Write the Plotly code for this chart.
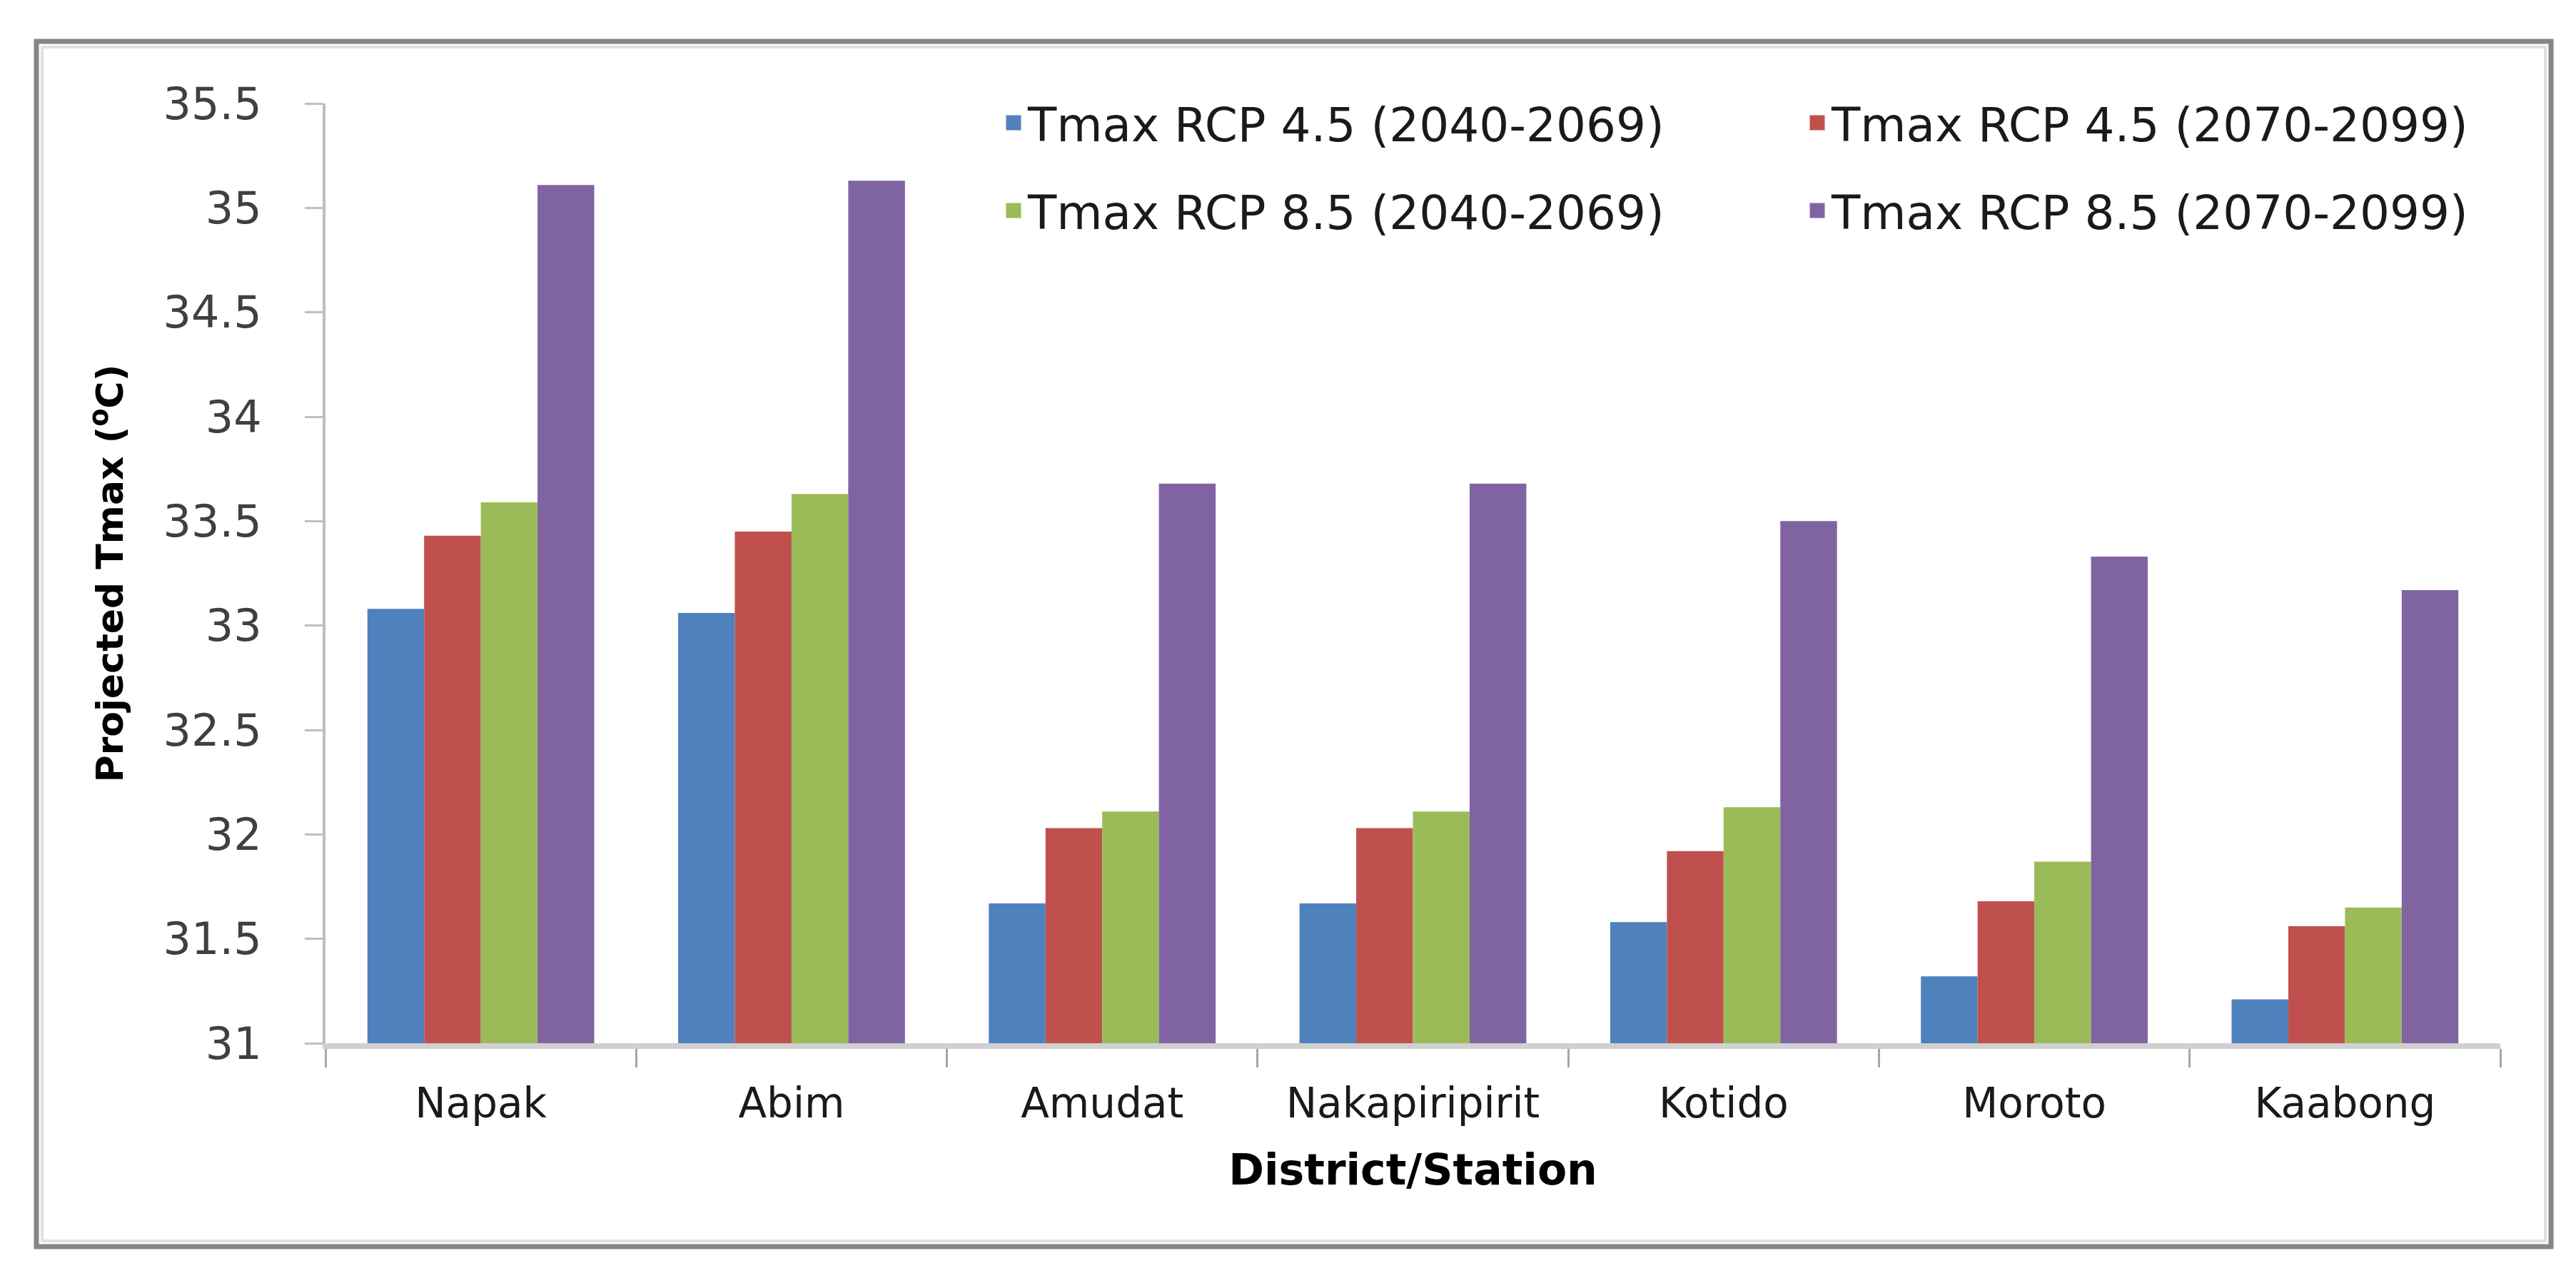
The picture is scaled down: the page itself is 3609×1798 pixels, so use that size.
import plotly.graph_objects as go

# ── data ──────────────────────────────────────────────────────────────
districts = ["Napak", "Abim", "Amudat", "Nakapiripirit", "Kotido", "Moroto", "Kaabong"]

series_names = [
    "Tmax RCP 4.5 (2040-2069)",
    "Tmax RCP 4.5 (2070-2099)",
    "Tmax RCP 8.5 (2040-2069)",
    "Tmax RCP 8.5 (2070-2099)",
]
rcp45_2040 = [33.08, 33.06, 31.67, 31.67, 31.58, 31.32, 31.21]
rcp45_2070 = [33.43, 33.45, 32.03, 32.03, 31.92, 31.68, 31.56]
rcp85_2040 = [33.59, 33.63, 32.11, 32.11, 32.13, 31.87, 31.65]
rcp85_2070 = [35.11, 35.13, 33.68, 33.68, 33.50, 33.33, 33.17]

y_ticks = [31, 31.5, 32, 32.5, 33, 33.5, 34, 34.5, 35, 35.5]

# ── layout constants (pixels) ─────────────────────────────────────────
W, H = 3609, 1798
L, R, T, B = 448, 114, 137, 344
PW, PH = W - L - R, H - T - B
FONT = "DejaVu Sans"
colors = ["#4F81BD", "#C0504D", "#9BBB59", "#8064A2"]


def px(x):
    return (x - L) / PW


def py(y):
    return (H - B - y) / PH


fig = go.Figure()
values = [rcp45_2040, rcp45_2070, rcp85_2040, rcp85_2070]
legend_ids = ["legend", "legend2", "legend3", "legend4"]
for name, vals, col in zip(series_names, values, colors):
    fig.add_trace(go.Bar(
        x=districts, y=vals, name=name,
        marker=dict(color=col, line=dict(width=0)),
        showlegend=False,
    ))

# legend entries (bigger square keys than the bar legend icon allows)
for name, col, lg in zip(series_names, colors, legend_ids):
    fig.add_trace(go.Scatter(
        x=[None], y=[None], mode="markers", name=name,
        marker=dict(symbol="square", size=16, color=col, line=dict(color=col, width=5)),
        legend=lg, showlegend=True, hoverinfo="skip",
    ))

# legend placement: 2 x 2 grid
leg_pos = [(1392, 164), (2518, 164), (1392, 287), (2518, 287)]
legends = {}
for lg, (lx, ly) in zip(legend_ids, leg_pos):
    legends[lg] = dict(
        x=px(lx), y=py(ly), xanchor="left", yanchor="middle",
        font=dict(family=FONT, size=66, color="#1a1a1a"),
        bgcolor="rgba(0,0,0,0)",
    )

fig.update_layout(
    width=W, height=H,
    margin=dict(l=L, r=R, t=T, b=B),
    paper_bgcolor="white", plot_bgcolor="white",
    barmode="group", bargap=0.27, bargroupgap=0,
    showlegend=True,
    font=dict(family=FONT, color="#404040"),
    xaxis=dict(
        showline=True, linecolor="#D0D0D0", linewidth=8,
        ticks="outside", tickson="boundaries", ticklen=26, tickwidth=3, tickcolor="#A6A6A6",
        tickfont=dict(family=FONT, size=58, color="#1a1a1a"),
        ticklabelstandoff=26,
        showgrid=False,
        title=dict(text="District/Station", standoff=42,
                   font=dict(family=FONT, size=60, color="#000000", weight="bold")),
    ),
    yaxis=dict(
        range=[31, 35.5], tickvals=y_ticks,
        showline=True, linecolor="#BFBFBF", linewidth=4,
        ticks="outside", ticklen=25, tickwidth=3, tickcolor="#BFBFBF",
        tickfont=dict(family=FONT, size=62, color="#404040"),
        ticklabelstandoff=48,
        showgrid=False, zeroline=False,
        title=dict(text="Projected Tmax (<sup>o</sup>C)", standoff=40,
                   font=dict(family=FONT, size=52, color="#000000", weight="bold")),
    ),
    **legends,
)

# outer chart frame
fig.add_shape(type="rect", xref="paper", yref="paper",
              x0=px(43), x1=px(3566), y0=py(1739), y1=py(50),
              line=dict(color="#858585", width=7), layer="below")
fig.add_shape(type="rect", xref="paper", yref="paper",
              x0=px(51), x1=px(3558), y0=py(1731), y1=py(58),
              line=dict(color="#E0E0E0", width=4), layer="below")

fig.write_html("out.html")
